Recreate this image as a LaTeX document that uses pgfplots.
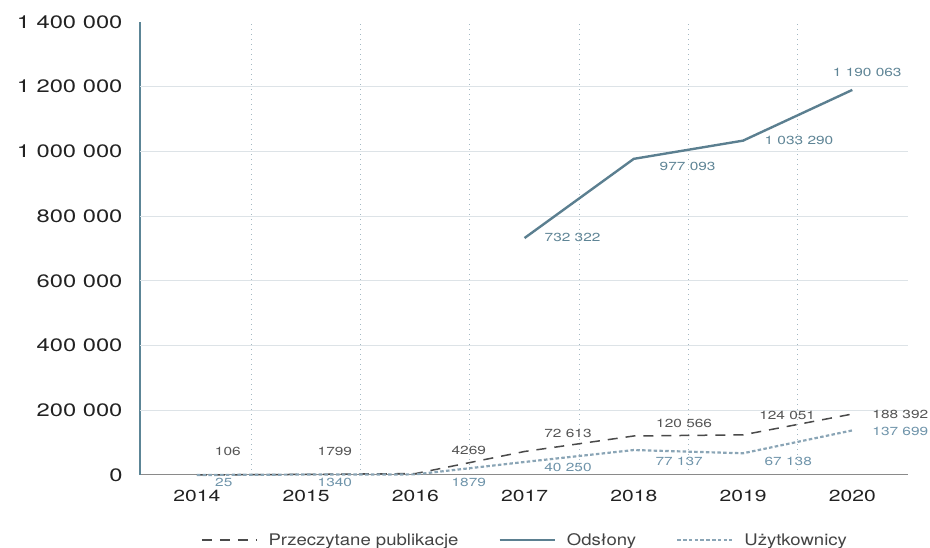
\documentclass[border=0pt]{standalone}
\usepackage{fontspec}
\setmainfont{TeX Gyre Heros}[FakeStretch=1.16]
\newfontfamily\numfont{TeX Gyre Heros}[FakeStretch=1.32]
\usepackage{pgfplots}
\pgfplotsset{compat=1.18}
\definecolor{codsl}{HTML}{5B7F90}
\definecolor{cprz}{HTML}{4A4A4A}
\definecolor{cuzy}{HTML}{8AA5B6}
\definecolor{lprz}{HTML}{555555}
\definecolor{lodsl}{HTML}{5F8596}
\definecolor{luzy}{HTML}{6F94AA}
\definecolor{chgrid}{HTML}{DDE3E7}
\definecolor{cvgrid}{HTML}{A3B8C3}
\definecolor{cyaxis}{HTML}{5C8596}
\definecolor{cxaxis}{HTML}{8A8A8A}
\definecolor{ctick}{HTML}{222222}
\begin{document}
\begin{tikzpicture}[x=1pt,y=1pt]
\path[use as bounding box] (-140,-73) rectangle (790,475);
\begin{axis}[
  at={(0,0)}, anchor=south west,
  scale only axis, width=768pt, height=453pt,
  xmin=-0.52, xmax=6.51, ymin=0, ymax=1400000,
  clip=false,
  axis x line=bottom, axis y line=left,
  x axis line style={-, draw=cxaxis, line width=1pt},
  y axis line style={-, draw=cyaxis, line width=1.2pt},
  xtick={0,1,2,3,4,5,6},
  xticklabels={2014,2015,2016,2017,2018,2019,2020},
  minor xtick={0.5,1.5,2.5,3.5,4.5,5.5},
  xminorgrids=true,
  minor grid style={draw=cvgrid, line width=1pt, dash pattern=on 1.2pt off 3.8pt},
  major tick length=0pt, minor tick length=0pt,
  ytick={0,200000,400000,600000,800000,1000000,1200000,1400000},
  yticklabels={0,200 000,400 000,600 000,800 000,1 000 000,1 200 000,1 400 000},
  scaled y ticks=false,
  extra y ticks={200000,400000,600000,800000,1000000,1200000},
  extra y tick labels={},
  extra y tick style={grid=major, major grid style={draw=chgrid, line width=1pt}},
  yticklabel style={font=\numfont\fontsize{18}{18}\selectfont, text=ctick, anchor=east, xshift=-14pt},
  xticklabel style={font=\numfont\fontsize{16}{16}\selectfont, text=ctick, anchor=north, yshift=-12pt},
  legend style={at={(0.5,-0.1435)}, anchor=center, draw=none, fill=none,
    font=\fontsize{16}{16}\selectfont, text=ctick!85,
    nodes={inner xsep=0pt},
    /tikz/every odd column/.append style={column sep=11pt},
    /tikz/every even column/.append style={column sep=40pt}},
  legend cell align=left,
  legend columns=3,
  legend image code/.code={\draw[#1] (0pt,0pt) -- (55pt,0pt);},
]
\addplot[cprz, line width=1.5pt, dash pattern=on 10pt off 8pt] coordinates {
 (0,106) (1,1799) (2,4269) (3,72613) (4,120566) (5,124051) (6,188392)};
\addlegendentry{Przeczytane publikacje}
\addplot[codsl, line width=2.4pt] coordinates {
 (3,732322) (4,977093) (5,1033290) (6,1190063)};
\addlegendentry{Odsłony}
\addplot[cuzy, line width=2.2pt, dash pattern=on 3.5pt off 2.3pt] coordinates {
 (0,25) (1,1340) (2,1879) (3,40250) (4,77137) (5,67138) (6,137699)};
\addlegendentry{Użytkownicy}

\begin{scope}[every node/.style={font=\numfont\fontsize{11.7}{12}\selectfont, anchor=center, inner sep=0pt}]
\node[text=lprz] at (axis cs:0.284,74172) {106};
\node[text=lprz] at (axis cs:1.264,74172) {1799};
\node[text=lprz] at (axis cs:2.49,77262) {4269};
\node[text=lprz] at (axis cs:3.398,129800) {72 613};
\node[text=lprz] at (axis cs:4.461,160700) {120 566};
\node[text=lprz] at (axis cs:5.404,185430) {124 051};
\node[text=lprz] at (axis cs:6.44,188520) {188 392};
\node[text=luzy] at (axis cs:0.247,-21633) {25};
\node[text=luzy] at (axis cs:1.264,-21633) {1340};
\node[text=luzy] at (axis cs:2.49,-21633) {1879};
\node[text=luzy] at (axis cs:3.398,24724) {40 250};
\node[text=luzy] at (axis cs:4.415,43267) {77 137};
\node[text=luzy] at (axis cs:5.414,43267) {67 138};
\node[text=luzy] at (axis cs:6.44,135982) {137 699};
\node[text=lodsl] at (axis cs:3.44,733400) {732 322};
\node[text=lodsl] at (axis cs:4.493,954970) {977 093};
\node[text=lodsl] at (axis cs:5.512,1033100) {1 033 290};
\node[text=lodsl] at (axis cs:6.137,1243300) {1 190 063};
\end{scope}
\end{axis}
\end{tikzpicture}
\end{document}
